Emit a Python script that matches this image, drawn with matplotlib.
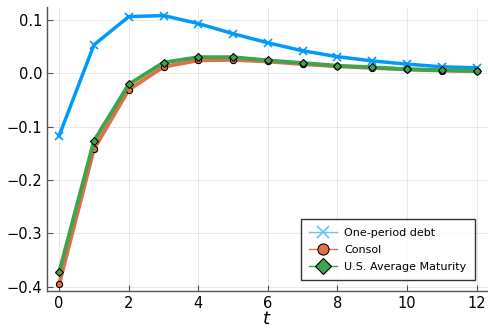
import matplotlib
matplotlib.use("Agg")
import matplotlib.pyplot as plt
import numpy as np

t = list(range(13))
one_period = [-0.117, 0.053, 0.106, 0.108, 0.093, 0.074, 0.057, 0.042, 0.031, 0.023, 0.017, 0.012, 0.010]
consol = [-0.395, -0.142, -0.031, 0.012, 0.024, 0.025, 0.022, 0.017, 0.013, 0.010, 0.007, 0.005, 0.004]
us_avg = [-0.373, -0.127, -0.021, 0.020, 0.030, 0.030, 0.024, 0.019, 0.014, 0.011, 0.0075, 0.0056, 0.0043]
labels = ["One-period debt", "Consol", "U.S. Average Maturity"]
xticks = [0, 2, 4, 6, 8, 10, 12]
yticks = [-0.4, -0.3, -0.2, -0.1, 0.0, 0.1]

fig = plt.figure(figsize=(4.88, 3.29), dpi=100)
ax = fig.add_axes([0.0963, 0.1155, 0.9037, 0.8632])

blue, orange, green = "#009AFA", "#E36F47", "#3EA44E"
ax.plot(t, one_period, color=blue, lw=2.5, marker="x", ms=6, mew=1.2, label=labels[0], zorder=3)
ax.plot(t, consol, color=orange, lw=2.8, marker="o", ms=4.5, mec="black", mew=0.8, label=labels[1], zorder=3)
ax.plot(t, us_avg, color=green, lw=2.8, marker="D", ms=4.5, mec="black", mew=0.8, label=labels[2], zorder=4)

ax.set_xlim(-0.35, 12.33)
ax.set_ylim(-0.408, 0.124)
ax.set_xticks(xticks)
ax.set_xticklabels([str(v) for v in xticks])
ax.set_yticks(yticks)
ax.set_yticklabels(["\u2212%.1f" % abs(v) if v < 0 else "%.1f" % v for v in yticks])
ax.grid(True, color="black", alpha=0.1, lw=0.6)
for s in ["top", "right"]:
    ax.spines[s].set_visible(False)
for s in ["left", "bottom"]:
    ax.spines[s].set_color("#555555")
    ax.spines[s].set_linewidth(1.0)
ax.tick_params(direction="in", length=4, labelsize=10.5, color="#555555")
ax.set_xlabel("$t$", fontsize=13)
ax.xaxis.set_label_coords(0.499, -0.068)

leg = ax.legend(loc="lower right", bbox_to_anchor=(0.982, 0.018), fontsize=8, frameon=True,
                fancybox=False, edgecolor="black", handlelength=2.5, borderpad=0.75,
                labelspacing=0.65, handletextpad=0.6)
leg.get_frame().set_linewidth(1.0)
for h in leg.legend_handles:
    h.set_linewidth(1.0)
    h.set_markersize(8)
leg.legend_handles[0].set_color("#66C2FC")
leg.legend_handles[0].set_markeredgewidth(1.2)

fig.savefig("out.png", dpi=100)
